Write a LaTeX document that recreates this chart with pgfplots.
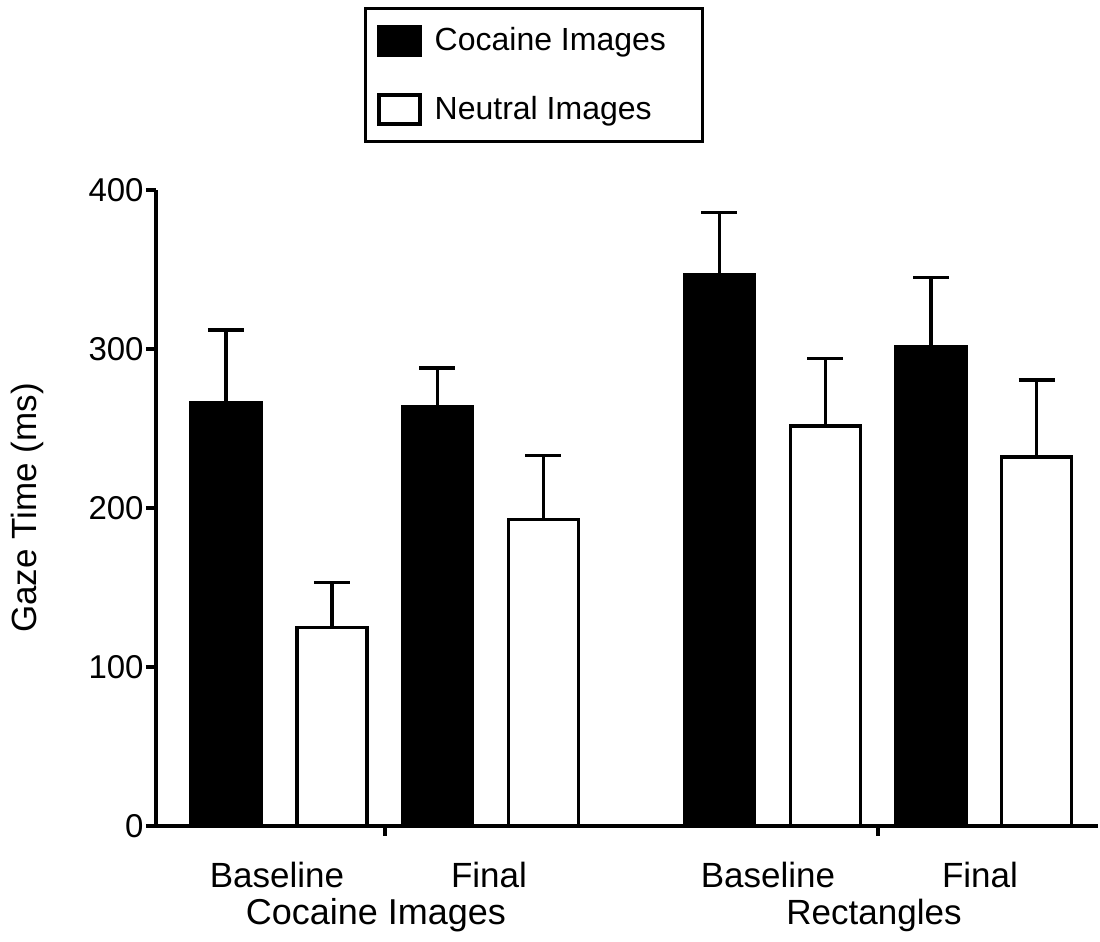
\documentclass[border=0pt]{standalone}
\usepackage{fontspec}
\setmainfont{Liberation Sans}
\usepackage{pgfplots}
\pgfplotsset{compat=1.18}
\begin{document}
\begin{tikzpicture}
\begin{axis}[
  scale only axis,
  width=471pt, height=318pt,
  xmin=0, xmax=942,
  ymin=0, ymax=400,
  axis x line=bottom, axis y line=left,
  axis line style={line width=2pt, -},
  clip=false,
  xtick={229,722}, xticklabels={},
  ytick={0,100,200,300,400},
  tick align=outside,
  major tick length=5pt,
  tick style={line width=2pt, black},
  /pgf/number format/assume math mode=true,
  yticklabel style={font=\fontsize{16.5}{19}\selectfont, inner sep=1pt},
  ylabel={Gaze Time (ms)},
  ylabel style={at={(rel axis cs:-0.137,0.5)}, anchor=center, rotate=0, font=\fontsize{17.5}{21}\selectfont},
  legend cell align=left,
  legend style={at={(rel axis cs:0.2205,1.2877)}, anchor=north west,
    draw=black, line width=1.5pt,
    font=\fontsize{16}{19}\selectfont,
    inner xsep=6pt, inner ysep=8pt,
    row sep=18pt,
    nodes={inner ysep=0pt, inner xsep=6.5pt},
    /tikz/every even column/.append style={column sep=5pt}},
  legend image code/.code={\draw[#1] (0pt,-7.25pt) rectangle (20.5pt,7.25pt);},
]
\addplot[ybar, bar width=70, bar shift=0pt, fill=black, draw=black, line width=1.75pt,
  error bars/.cd, y dir=plus, y explicit,
  error bar style={line width=1.75pt, black},
  error mark options={rotate=90, mark size=9pt, line width=1.75pt, black}]
  coordinates {
  (70,266.0) +- (0,46.1)
  (281.5,263.8) +- (0,24.2)
  (563.5,346.7) +- (0,39.1)
  (775,301.6) +- (0,43.5)
  };
\addlegendentry{Cocaine Images\rule{6pt}{0pt}}
\addplot[ybar, bar width=70, bar shift=0pt, fill=white, draw=black, line width=1.75pt,
  error bars/.cd, y dir=plus, y explicit,
  error bar style={line width=1.75pt, black},
  error mark options={rotate=90, mark size=9pt, line width=1.75pt, black}]
  coordinates {
  (176,124.9) +- (0,28.2)
  (387.5,192.9) +- (0,40.0)
  (669.5,251.6) +- (0,42.4)
  (880.5,232.0) +- (0,48.6)
  };
\addlegendentry{Neutral Images}
\node[anchor=base, yshift=-31pt, font=\fontsize{17.5}{21}\selectfont] at (axis cs:121,0) {Baseline};
\node[anchor=base, yshift=-31pt, font=\fontsize{17.5}{21}\selectfont] at (axis cs:333,0) {Final};
\node[anchor=base, yshift=-31pt, font=\fontsize{17.5}{21}\selectfont] at (axis cs:612,0) {Baseline};
\node[anchor=base, yshift=-31pt, font=\fontsize{17.5}{21}\selectfont] at (axis cs:824,0) {Final};
\node[anchor=base, yshift=-49.5pt, font=\fontsize{18}{21}\selectfont] at (axis cs:220,0) {Cocaine Images};
\node[anchor=base, yshift=-49.5pt, font=\fontsize{17.5}{21}\selectfont] at (axis cs:718,0) {Rectangles};
\end{axis}
\pgfresetboundingbox
\path (-78pt,-58pt) rectangle (472pt,413pt);
\end{tikzpicture}
\end{document}
